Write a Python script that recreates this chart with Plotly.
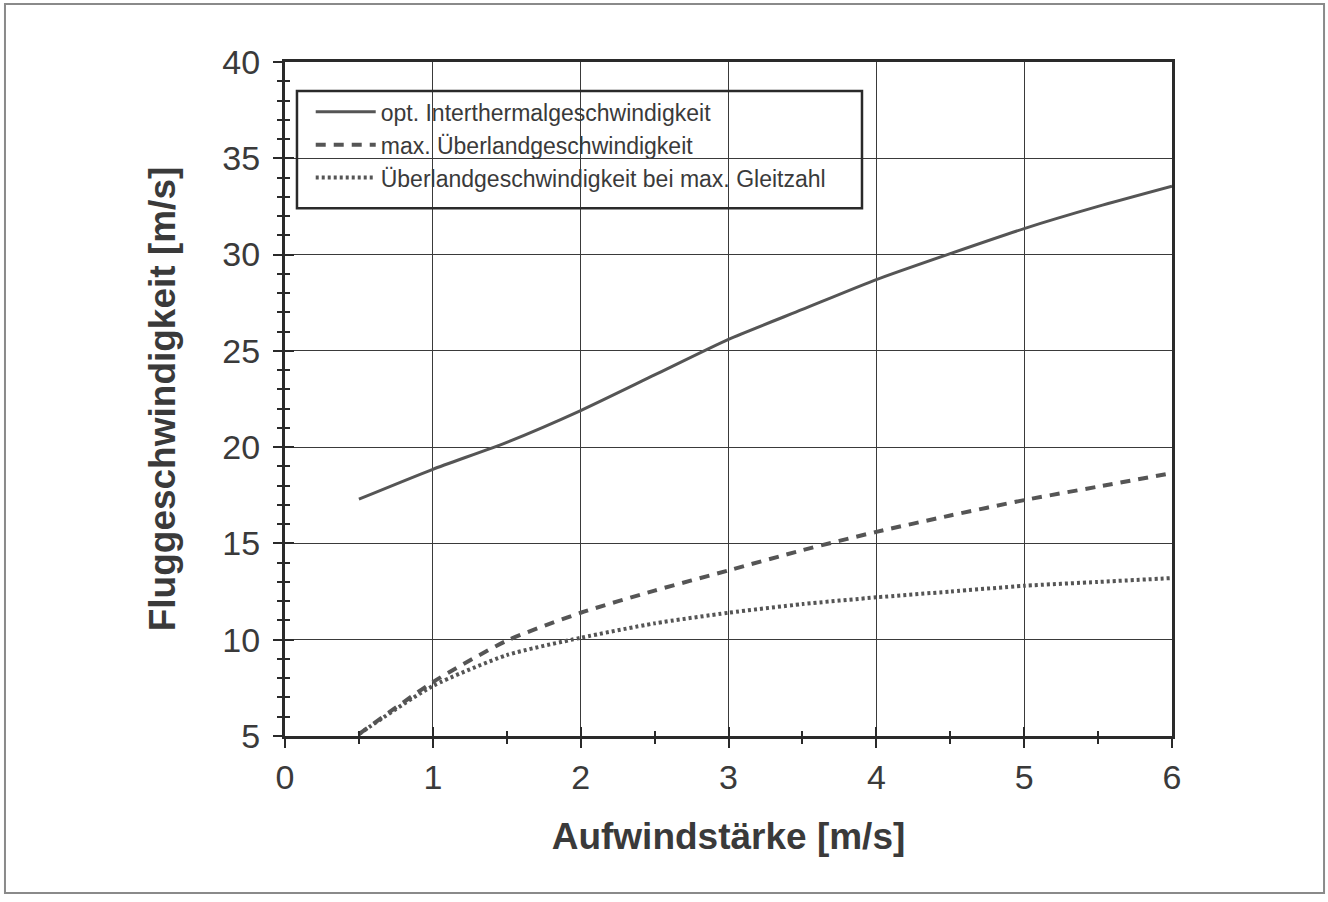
import plotly.graph_objects as go

# Aufwindstärke (m/s)
aufwind = [0.5, 1.0, 1.5, 2.0, 2.5, 3.0, 3.5, 4.0, 4.5, 5.0, 5.5, 6.0]

# Fluggeschwindigkeiten (m/s)
v_interthermal = [17.3, 18.85, 20.25, 21.9, 23.75, 25.6, 27.15, 28.7, 30.05, 31.35, 32.5, 33.55]
v_ueberland_max = [5.1, 7.8, 9.95, 11.4, 12.55, 13.6, 14.65, 15.6, 16.45, 17.25, 17.95, 18.65]
v_ueberland_gleit = [5.1, 7.6, 9.2, 10.1, 10.85, 11.4, 11.85, 12.2, 12.5, 12.8, 13.0, 13.2]

series_names = [
    "opt. Interthermalgeschwindigkeit",
    "max. Überlandgeschwindigkeit",
    "Überlandgeschwindigkeit bei max. Gleitzahl",
]

x_ticks = [0, 1, 2, 3, 4, 5, 6]
y_ticks = [5, 10, 15, 20, 25, 30, 35, 40]

LINE = "#555555"
AXIS = "#2a2a2a"
TEXT = "#3a3a3a"
FONT = "Liberation Sans, Arial, sans-serif"

fig = go.Figure()
fig.add_trace(go.Scatter(x=aufwind, y=v_interthermal, mode="lines", name=series_names[0],
                         line=dict(color=LINE, width=3, shape="spline", smoothing=0.6)))
fig.add_trace(go.Scatter(x=aufwind, y=v_ueberland_max, mode="lines", name=series_names[1],
                         line=dict(color=LINE, width=4, dash="10px,8px", shape="spline", smoothing=0.6)))
fig.add_trace(go.Scatter(x=aufwind, y=v_ueberland_gleit, mode="lines", name=series_names[2],
                         line=dict(color=LINE, width=4, dash="3px,3px", shape="spline", smoothing=0.6)))
# empty trace that brings up the overlay axes (inner half of the crossing ticks)
fig.add_trace(go.Scatter(x=[], y=[], xaxis="x2", yaxis="y2", showlegend=False, hoverinfo="skip"))

x_range = [0, 6]
y_range = [5, 40]

common_axis = dict(showline=True, linecolor=AXIS, linewidth=3, zeroline=False)

fig.update_layout(
    width=1328, height=902,
    margin=dict(l=285, r=156, t=62, b=166),
    paper_bgcolor="white", plot_bgcolor="white",
    font=dict(family=FONT, color=TEXT),
    showlegend=True,
    legend=dict(
        x=0.029, y=0.958, xanchor="left", yanchor="top",
        bgcolor="rgba(0,0,0,0)", borderwidth=0,
        font=dict(size=23, color=TEXT, family=FONT),
        itemwidth=60, tracegroupgap=0,
    ),
    xaxis=dict(
        range=x_range, tickvals=x_ticks, ticktext=[str(v) for v in x_ticks],
        ticks="outside", ticklen=9, tickwidth=2, tickcolor=AXIS,
        minor=dict(dtick=0.5, tick0=0, ticks="outside", ticklen=5, tickwidth=2, tickcolor=AXIS, showgrid=False),
        showgrid=True, gridcolor="#3a3a3a", gridwidth=1.3,
        mirror=True,
        tickfont=dict(size=34, color=TEXT),
        title=dict(text="<b>Aufwindstärke [m/s]</b>", font=dict(size=37, color=TEXT), standoff=29),
        **common_axis,
    ),
    yaxis=dict(
        range=y_range, tickvals=y_ticks, ticktext=[str(v) for v in y_ticks],
        ticks="outside", ticklen=9, tickwidth=2, tickcolor=AXIS,
        minor=dict(dtick=1, tick0=0, ticks="outside", ticklen=5, tickwidth=2, tickcolor=AXIS, showgrid=False),
        showgrid=True, gridcolor="#3a3a3a", gridwidth=1.3,
        mirror=True,
        tickfont=dict(size=34, color=TEXT),
        ticklabelstandoff=6,
        title=dict(text="<b>Fluggeschwindigkeit [m/s]</b>", font=dict(size=37, color=TEXT), standoff=36),
        **common_axis,
    ),
    xaxis2=dict(
        range=x_range, overlaying="x", anchor="y2", side="bottom",
        tickvals=x_ticks, showticklabels=False, showgrid=False, zeroline=False, showline=False,
        ticks="inside", ticklen=9, tickwidth=2, tickcolor=AXIS,
        minor=dict(dtick=0.5, tick0=0, ticks="inside", ticklen=5, tickwidth=2, tickcolor=AXIS, showgrid=False),
    ),
    yaxis2=dict(
        range=y_range, overlaying="y", anchor="x2", side="left",
        tickvals=y_ticks, showticklabels=False, showgrid=False, zeroline=False, showline=False,
        ticks="inside", ticklen=9, tickwidth=2, tickcolor=AXIS,
        minor=dict(dtick=1, tick0=0, ticks="inside", ticklen=5, tickwidth=2, tickcolor=AXIS, showgrid=False),
    ),
    shapes=[
        # legend frame
        dict(type="rect", xref="paper", yref="paper",
             x0=0.0135, x1=0.6505, y0=0.783, y1=0.957,
             line=dict(color=AXIS, width=2.5), fillcolor="rgba(255,255,255,0)", layer="above"),
        # outer frame of the figure
        dict(type="rect", xref="paper", yref="paper",
             x0=-0.3157, x1=1.1714, y0=-0.2329, y1=1.086,
             line=dict(color="#8a8a8a", width=2), fillcolor="rgba(0,0,0,0)", layer="below"),
    ],
)

fig.write_html("out.html")
